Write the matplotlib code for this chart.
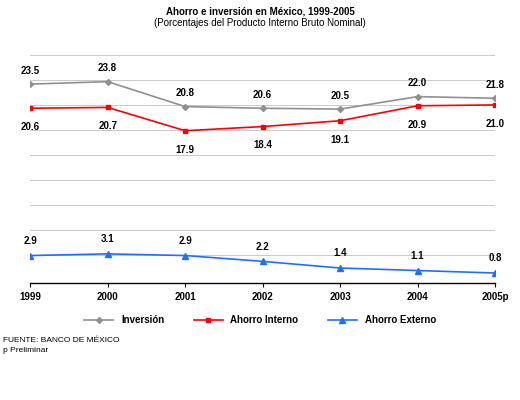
import matplotlib.pyplot as plt
import numpy as np

years = ["1999", "2000", "2001", "2002", "2003", "2004", "2005p"]
inversion = [23.5, 23.8, 20.8, 20.6, 20.5, 22.0, 21.8]
ahorro_interno = [20.6, 20.7, 17.9, 18.4, 19.1, 20.9, 21.0]
ahorro_externo = [2.9, 3.1, 2.9, 2.2, 1.4, 1.1, 0.8]

plt.rcParams["font.family"] = ["Liberation Sans", "DejaVu Sans"]
fig = plt.figure(figsize=(5.2, 4.0), dpi=100)
ax = fig.add_axes([0.058, 0.2925, 0.894, 0.57])
x = np.arange(len(years))

ax.plot(x, inversion, color="#909090", marker="D", ms=3, lw=1.2, label="Inversión")
ax.plot(x, ahorro_interno, color="#ff0000", marker="s", ms=3, lw=1.2, label="Ahorro Interno")
ax.plot(x, ahorro_externo, color="#1f6fff", marker="^", ms=4, lw=1.2, label="Ahorro Externo")

for i in x:
    ax.annotate(f"{inversion[i]:.1f}", (i, inversion[i]), xytext=(0, 6), textcoords="offset points",
                ha="center", va="bottom", fontsize=7, fontweight="bold")
    ax.annotate(f"{ahorro_interno[i]:.1f}", (i, ahorro_interno[i]), xytext=(0, -10), textcoords="offset points",
                ha="center", va="top", fontsize=7, fontweight="bold")
    ax.annotate(f"{ahorro_externo[i]:.1f}", (i, ahorro_externo[i]), xytext=(0, 7), textcoords="offset points",
                ha="center", va="bottom", fontsize=7, fontweight="bold")

ax.set_xlim(0, len(years) - 1)
ax.set_ylim(-0.4, 27)
ax.set_yticks(np.arange(3, 28, 3))
ax.set_yticklabels([])
ax.tick_params(axis="y", length=0)
ax.grid(axis="y", color="#c0c0c0", lw=0.6)
ax.set_xticks(x)
ax.set_xticklabels(years, fontsize=7, fontweight="bold")
ax.tick_params(axis="x", length=3)
for s in ["top", "right", "left"]:
    ax.spines[s].set_visible(False)
ax.spines["bottom"].set_linewidth(1)

fig.text(0.5, 0.965, "Ahorro e inversión en México, 1999-2005", ha="center", fontsize=7, fontweight="bold")
fig.text(0.5, 0.935, "(Porcentajes del Producto Interno Bruto Nominal)", ha="center", fontsize=7)
fig.legend(loc="center", bbox_to_anchor=(0.5, 0.2), ncol=3, frameon=False,
           prop={"weight": "bold", "size": 7}, handlelength=3, columnspacing=3)
fig.text(0.005, 0.145, "FUENTE: BANCO DE MÉXICO", fontsize=6)
fig.text(0.005, 0.12, "p Preliminar", fontsize=6)

fig.savefig("out.png", dpi=100)
